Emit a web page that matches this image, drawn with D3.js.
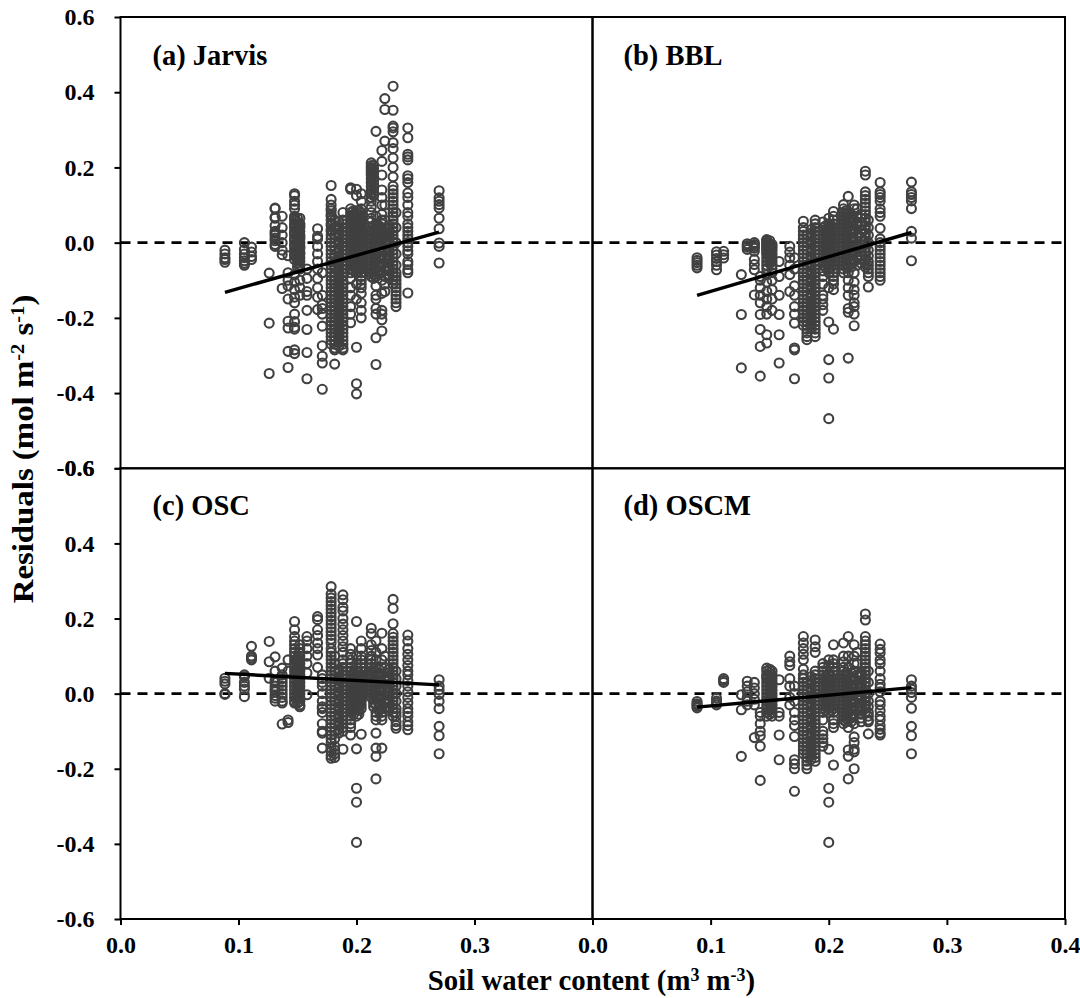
<!DOCTYPE html>
<html>
<head>
<meta charset="utf-8">
<script src="https://cdn.jsdelivr.net/npm/d3@7"></script>
<style>
body { margin: 0; background: #fff; }
text { font-family: "Liberation Serif", serif; font-weight: bold; fill: #000; }
</style>
</head>
<body>
<div id="chart"></div>
<script>
// soil water content of each measurement column
const swc = [0.0885,0.105,0.111,0.126,0.131,0.137,0.142,0.1475,0.152,0.158,0.167,0.171,0.1785,0.1815,0.1885,0.195,0.2,0.204,0.2125,0.2165,0.2215,0.224,0.231,0.2335,0.2435,0.27];
// columns that sit inside the solid dark blocks
const swcDense = [0.15,0.185,0.1975,0.202,0.2145,0.219,0.2275];

// residuals per column, same order as swc
const jarvisRes = [
 [-.02,-.03,-.04,-.045,-.052],
 [0,-.018,-.03,-.04,-.048,-.055,-.06],
 [-.012,-.025,-.037,-.045],
 [-.081,-.214,-.348],
 [.092,.09,.068,.065,.045,.03,.025,.02,.012,.005,-.005,-.01],
 [.07,.04,.02,0,-.02,-.032,-.122],
 [-.035,-.08,-.115,-.209,-.227,-.289,-.332,-.1,-.15],
 [.13,.125,.11,.1,.09,.07,.065,.06,.05,.045,.04,.03,.025,.02,.01,.005,-.005,-.01,-.02,-.03,-.035,-.045,-.085,-.105,-.125,-.145,-.16,-.19,-.21,-.225,-.23,-.285,-.295],
 [.065,.05,.045,.04,.03,.02,.015,.01,0,-.01,-.015,-.025,-.03,-.04,-.05,-.06,-.07,-.1,-.12,-.14],
 [-.07,-.095,-.13,-.14,-.18,-.231,-.292,-.362],
 [.037,.017,.01,-.01,-.03,-.05,-.07,-.095,-.12,-.145,-.178],
 [-.08,-.14,-.165,-.175,-.19,-.222,-.274,-.302,-.32,-.39],
 [.152,.115,.1,.09,.085,.075,.07,.06,.05,.045,.035,.03,.02,.01,0,-.01,-.02,-.03,-.04,-.05,-.06,-.07,-.08,-.09,-.1,-.11,-.12,-.13,-.14,-.15,-.16,-.17,-.18,-.19,-.2,-.21,-.22,-.23,-.24,-.25,-.26,-.27],
 [.06,.04,.02,0,-.02,-.035,-.05,-.065,-.08,-.09,-.1,-.11,-.12,-.13,-.14,-.15,-.16,-.17,-.18,-.19,-.2,-.21,-.22,-.23,-.24,-.25,-.26,-.27,-.28,-.285,-.323],
 [.08,.06,.05,.04,.03,.02,.01,0,-.01,-.02,-.03,-.04,-.05,-.06,-.07,-.08,-.09,-.1,-.11,-.12,-.13,-.14,-.15,-.16,-.17,-.18,-.19,-.2,-.21,-.22,-.23,-.24,-.25,-.26,-.27,-.28,-.285],
 [.146,.142,.09,.08,.07,.06,.05,.04,.03,.02,.01,0,-.01,-.02,-.03,-.04,-.05,-.06,-.07,-.08,-.095,-.12,-.14,-.17,-.19,-.213],
 [.142,.125,.085,.07,.06,.05,.04,.03,.02,.01,0,-.01,-.02,-.03,-.04,-.05,-.06,-.07,-.08,-.11,-.15,-.278,-.375,-.402],
 [.13,.11,.09,.08,.07,.06,.05,.04,.03,.02,.01,0,-.01,-.02,-.03,-.04,-.05,-.06,-.07,-.08,-.09,-.1,-.11,-.12,-.135,-.16,-.18,-.2],
 [.212,.205,.2,.195,.19,.185,.18,.17,.16,.15,.14,.13,.12,.11,.095,.08,.065,.055,.04,.03,.02,.01,0,-.01,-.02,-.03,-.04,-.05,-.06,-.07,-.08,-.09],
 [.296,.07,.05,.035,.02,.005,-.01,-.03,-.05,-.07,-.09,-.115,-.14,-.15,-.175,-.19,-.253,-.324],
 [.245,.216,.18,.14,.12,.1,.075,.06,.05,.04,.03,.02,.01,0,-.02,-.04,-.06,-.08,-.1,-.135,-.18,-.19,-.205,-.235],
 [.383,.354,.27,.1,.06,.03,.02,0,-.02,-.04,-.07,-.09,-.11,-.13],
 [.416,.352,.31,.305,.295,.266,.25,.225,.2,.175,.15,.14,.13,.12,.11,.1,.09,.08,.07,.06,.05,.04,.03,.02,.01,0,-.01,-.02,-.03,-.04,-.05,-.06,-.07,-.08,-.09,-.1,-.11],
 [.08,.04,0,-.03,-.06,-.08,-.09,-.1,-.11,-.12,-.13,-.14,-.15,-.16,-.17],
 [.305,.279,.235,.228,.22,.178,.17,.16,.132,.12,.1,.08,.07,.05,.04,.03,.02,.01,0,-.01,-.022,-.03,-.05,-.058,-.072,-.08,-.134],
 [.138,.119,.11,.101,.092,.065,.037,-.001,-.01,-.054]
];
const jarvisDense = [
 [.065,.055,.045,.035,.025,.015,.005,-.005,-.015,-.025,-.035,-.045,-.055,-.065],
 [.055,.045,.035,.025,.015,.005,-.005,-.015,-.025,-.035,-.045,-.055,-.065,-.075,-.085,-.095,-.105,-.115,-.125,-.135,-.145,-.155,-.165,-.175,-.185,-.195,-.205,-.215,-.225,-.235,-.245,-.255,-.265,-.275],
 [.085,.075,.065,.055,.045,.035,.025,.015,.005,-.005,-.015,-.025,-.035,-.045,-.055,-.065,-.075],
 [.085,.075,.065,.055,.045,.035,.025,.015,.005,-.005,-.015,-.025,-.035,-.045,-.055,-.065,-.075],
 [.205,.195,.185,.175,.165,.155,.145,.135,.125,.045,.035,.025,.015,.005,-.005,-.015,-.025,-.035,-.045,-.055,-.065,-.075,-.085,-.095],
 [.045,.035,.025,.015,.005,-.005,-.015,-.025,-.035,-.045,-.055,-.065,-.075,-.085],
 [.045,.035,.025,.015,.005,-.005,-.015,-.025,-.035,-.045,-.055,-.065,-.075,-.085,-.095]
];
const bblRes = [
 [-.04,-.047,-.053,-.06,-.067],
 [-.024,-.033,-.042,-.05,-.06,-.072],
 [-.023,-.032,-.041],
 [-.085,-.191,-.333],
 [-.003,-.008,-.012,-.018],
 [0,-.01,-.023,-.045,-.058,-.072,-.005,-.015,-.139],
 [-.09,-.1,-.12,-.14,-.16,-.191,-.231,-.276,-.355],
 [.008,.005,0,-.005,-.01,-.015,-.02,-.025,-.03,-.04,-.05,-.06,-.07,-.085,-.105,-.13,-.15,-.17,-.19,-.245,-.267],
 [-.005,-.012,-.02,-.03,-.04,-.05,-.06,-.07,-.08,-.1,-.125,-.15,-.18],
 [-.05,-.09,-.14,-.191,-.245,-.32],
 [-.01,-.025,-.04,-.06,-.085,-.13],
 [-.04,-.07,-.115,-.14,-.17,-.19,-.214,-.28,-.285,-.362],
 [.057,.04,.03,.02,.01,0,-.01,-.02,-.03,-.04,-.05,-.06,-.07,-.08,-.09,-.1,-.11,-.12,-.13,-.14,-.15,-.16,-.17,-.18,-.19,-.2,-.21,-.22],
 [.02,0,-.02,-.04,-.06,-.08,-.1,-.12,-.14,-.16,-.17,-.18,-.19,-.2,-.21,-.22,-.23,-.24,-.25,-.258],
 [.06,.05,.04,.03,.02,.01,0,-.01,-.02,-.03,-.04,-.05,-.06,-.07,-.08,-.09,-.1,-.11,-.12,-.13,-.14,-.15,-.16,-.17,-.18,-.19,-.2,-.21,-.22,-.23,-.24,-.25],
 [.055,.04,.03,.02,.01,0,-.01,-.02,-.03,-.04,-.05,-.06,-.075,-.09,-.11,-.14,-.15,-.165,-.18],
 [.065,.05,.04,.03,.02,.01,0,-.01,-.02,-.03,-.04,-.05,-.06,-.07,-.08,-.12,-.211,-.311,-.36,-.468],
 [.083,.07,.06,.05,.04,.03,.02,.01,0,-.01,-.02,-.03,-.04,-.05,-.06,-.07,-.08,-.09,-.1,-.11,-.125,-.23],
 [.101,.09,.08,.07,.06,.05,.04,.03,.02,.01,0,-.01,-.02,-.03,-.04,-.05,-.06,-.07,-.08],
 [.123,.08,.06,.04,.02,0,-.02,-.04,-.06,-.08,-.1,-.12,-.14,-.175,-.185,-.307],
 [.1,.09,.06,.03,-.02,-.05,-.08,-.105,-.125,-.14,-.16,-.17,-.19,-.221],
 [.09,.07,.05,.02,-.01,-.04,-.06],
 [.19,.18,.135,.125,.115,.105,.095,.085,.075,.065,.055,.045,.035,.025,.015,.005,-.005,-.015,-.025,-.035,-.045,-.055,-.065],
 [.06,.04,.02,0,-.02,-.035,-.05,-.06,-.07,-.08,-.09,-.118],
 [.16,.135,.128,.12,.11,.09,.08,.07,.038,.01,0,-.01,-.02,-.03,-.04,-.05,-.06,-.07,-.08,-.09,-.1],
 [.161,.135,.128,.12,.111,.0905,.03,.012,-.048]
];
const bblDense = [
 [.005,-.005,-.015,-.025,-.035,-.045,-.055],
 [.035,.025,.015,.005,-.005,-.015,-.025,-.035,-.045,-.055,-.065,-.075,-.085,-.095,-.105,-.115,-.125,-.135,-.145,-.155,-.165,-.175,-.185,-.195,-.205,-.215,-.225],
 [.045,.035,.025,.015,.005,-.005,-.015,-.025,-.035,-.045,-.055,-.065],
 [.045,.035,.025,.015,.005,-.005,-.015,-.025,-.035,-.045,-.055,-.065],
 [.085,.075,.065,.055,.045,.035,.025,.015,.005,-.005,-.015,-.025,-.035,-.045,-.055,-.065],
 [.075,.065,.055,.045,.035,.025,.015,.005,-.005,-.015,-.025,-.035,-.045,-.055,-.065],
 [.075,.065,.055,.045,.035,.025,.015,.005,-.005,-.015,-.025,-.035,-.045,-.055]
];
const oscRes = [
 [.041,.033,.026,0,-.002],
 [.05,.045,.03,.02,.012,-.008],
 [.126,.1,.095,.09],
 [.139,.085,.041],
 [.098,.06,.035,.03,.02,.012,.005,-.005,-.012,-.02],
 [.068,.05,.04,.03,.02,.01,0,-.01,-.02,-.025,-.081],
 [.09,.06,-.07,-.077],
 [.192,.17,.152,.14,.13,.12,.11,.1,.09,.08,.07,.06,.05,.04,.03,.02,.01,0,-.01,-.02,-.025],
 [.13,.12,.11,.1,.09,.08,.07,.06,.05,.04,.03,.02,.01,0,-.01,-.02,-.03,-.035],
 [.152,.12,.1,.055,-.003,.14,.08],
 [.205,.197,.17,.155,.135,.12,.103,.07],
 [.05,.04,.03,.02,0,-.02,-.04,-.035,-.05,-.08,-.1,-.105,-.145],
 [.285,.265,.255,.245,.235,.225,.215,.205,.195,.185,.175,.165,.155,.145,.135,.12,.11,.1,.09,.08,.07,.06,.05,.04,.03,.02,.01,0,-.01,-.02,-.03,-.04,-.05,-.06,-.07,-.08,-.09,-.1,-.11,-.12,-.13,-.145,-.155,-.165,-.172],
 [.1,.08,.06,.04,.02,0,-.02,-.04,-.06,-.08,-.1,-.12,-.14,-.15,-.16,-.17],
 [.263,.25,.23,.22,.2,.185,.17,.155,.14,.125,.11,.09,.08,.07,.06,.05,.04,.03,.02,.01,0,-.01,-.02,-.03,-.04,-.05,-.06,-.07,-.08,-.09,-.1,-.148],
 [.12,.105,.09,.08,.07,.06,.05,.04,.03,.02,.01,0,-.01,-.02,-.03,-.04,-.05,-.06,-.07,-.08,-.09,-.11],
 [.192,.1,.08,.06,.04,.02,0,-.02,-.04,-.06,-.147,-.252,-.289,-.396],
 [.14,.12,.1,.09,.08,.07,.06,.05,.04,.03,.02,.01,0,-.01,-.02,-.03,-.04,-.108],
 [.174,.16,.13,.115,.1,.09,.08,.07,.06,.05,.04,.03,.02,.01,0,-.01],
 [.14,.11,.09,.07,.05,.03,.01,-.01,-.03,-.05,-.06,-.07,-.105,-.145,-.167,-.227],
 [.161,.12,.09,.07,.05,.03,.01,-.01,-.03,-.04,-.05,-.06,-.07,-.145],
 [.1,.07,.04,.01,-.02,-.04],
 [.251,.227,.186,.16,.15,.14,.13,.12,.11,.1,.09,.08,.07,.06,.05,.04,.03,.02,.01,0,-.01,-.02,-.03,-.04,-.05,-.06],
 [.06,.04,.02,0,-.02,-.04,-.05,-.06,-.075,-.085,-.092],
 [.156,.14,.12,.105,.09,.075,.06,.05,.035,.02,.005,-.01,-.025,-.04,-.05,-.06,-.075,-.085,-.096],
 [.037,.02,.01,-.002,-.02,-.04,-.087,-.112,-.16]
];
const oscDense = [
 [.095,.085,.075,.065,.055,.045,.035,.025,.015,.005,-.005,-.015,-.025],
 [.065,.055,.045,.035,.025,.015,.005,-.005,-.015,-.025,-.035,-.045,-.055,-.065,-.075,-.085,-.095,-.105],
 [.055,.045,.035,.025,.015,.005,-.005,-.015,-.025,-.035,-.045,-.055],
 [.055,.045,.035,.025,.015,.005,-.005,-.015,-.025,-.035,-.045,-.055],
 [.065,.055,.045,.035,.025,.015,.005,-.005,-.015,-.025,-.035],
 [.065,.055,.045,.035,.025,.015,.005,-.005,-.015,-.025,-.035,-.045],
 [.065,.055,.045,.035,.025,.015,.005,-.005,-.015,-.025,-.035,-.045]
];
const oscmRes = [
 [-.021,-.027,-.03,-.034,-.038],
 [-.012,-.02,-.025,-.03],
 [.04,.035,.03],
 [-.003,-.043,-.167],
 [.033,.02,.005,-.01,-.02,-.03],
 [.03,.015,0,-.015,-.03,-.117],
 [-.05,-.06,-.08,-.1,-.112,-.14,-.231],
 [.068,.06,.05,.045,.04,.03,.02,.01,0,-.01,-.02,-.03,-.04,-.05,-.06],
 [.06,.05,.04,.03,.02,.01,0,-.01,-.02,-.03,-.04,-.05,-.06],
 [.037,-.05,-.06,-.11,-.176],
 [.1,.085,.075,.04,.02,-.03,-.01],
 [.02,0,-.02,-.05,-.07,-.085,-.114,-.176,-.187,-.2,-.26],
 [.152,.135,.12,.105,.09,.065,.05,.04,.03,.02,.01,0,-.01,-.02,-.03,-.04,-.05,-.06,-.07,-.08,-.09,-.1,-.11,-.12,-.13,-.14,-.15,-.16],
 [.03,.01,-.01,-.03,-.05,-.07,-.09,-.11,-.13,-.14,-.15,-.16,-.17,-.18,-.19,-.2],
 [.143,.125,.11,.06,.05,.04,.03,.02,.01,0,-.01,-.02,-.03,-.04,-.05,-.06,-.07,-.08,-.09,-.1,-.11,-.12,-.13,-.14,-.15,-.16,-.17,-.18],
 [.08,.07,.06,.05,.04,.03,.02,.01,0,-.01,-.02,-.03,-.04,-.05,-.07,-.1,-.11,-.12,-.13,-.14],
 [.09,.075,.05,.03,.01,-.01,-.03,-.05,-.148,-.252,-.289,-.396],
 [.13,.09,.08,.07,.06,.05,.04,.03,.02,.01,0,-.01,-.02,-.03,-.04,-.05,-.07,-.08,-.09,-.19],
 [.135,.1,.085,.07,.06,.05,.04,.03,.02,.01,0,-.01,-.02,-.03,-.04,-.05,-.06,-.07,-.08],
 [.152,.1,.07,.05,.03,.01,-.01,-.03,-.05,-.07,-.09,-.15,-.167,-.227],
 [.13,.1,.08,.06,.04,.02,0,-.02,-.04,-.06,-.08,-.115,-.13,-.148,-.155,-.2],
 [.11,.08,.05,.02,-.01,-.04],
 [.212,.196,.152,.14,.13,.12,.11,.1,.09,.08,.07,.06,.05,.04,.03,.02,.01,0,-.01,-.02,-.03,-.04,-.05],
 [.06,.03,0,-.02,-.035,-.05,-.06,-.07,-.075,-.107],
 [.132,.118,.108,.09,.08,.06,.04,.025,.015,.005,-.02,-.03,-.045,-.06,-.07,-.085,-.095,-.105,-.11],
 [.037,.02,.012,.003,-.01,-.039,-.087,-.112,-.16]
];
const oscmDense = [
 [.065,.055,.045,.035,.025,.015,.005,-.005,-.015,-.025,-.035,-.045,-.055],
 [.045,.035,.025,.015,.005,-.005,-.015,-.025,-.035,-.045,-.055,-.065,-.075,-.085,-.095,-.105,-.115,-.125,-.135,-.145,-.155,-.165,-.175],
 [.045,.035,.025,.015,.005,-.005,-.015,-.025,-.035,-.045],
 [.045,.035,.025,.015,.005,-.005,-.015,-.025,-.035,-.045],
 [.055,.045,.035,.025,.015,.005,-.005,-.015,-.025,-.035,-.045,-.055,-.065,-.075],
 [.055,.045,.035,.025,.015,.005,-.005,-.015,-.025,-.035,-.045,-.055,-.065,-.075],
 [.055,.045,.035,.025,.015,.005,-.005,-.015,-.025,-.035,-.045,-.055,-.065,-.075]
];

const panelNames = ["(a) Jarvis","(b) BBL","(c) OSC","(d) OSCM"];
const panelRes = [jarvisRes, bblRes, oscRes, oscmRes];
const panelDense = [jarvisDense, bblDense, oscDense, oscmDense];
// fitted line: residual at first and last column
const fitStart = [-0.132,-0.14,0.054,-0.036];
const fitEnd = [0.028,0.027,0.0235,0.016];

const yTicks = [0.6,0.4,0.2,0.0,-0.2,-0.4,-0.6];
const xTicks = [0.0,0.1,0.2,0.3];
const xTicksLast = [0.0,0.1,0.2,0.3,0.4];

const wid = 1080, hei = 998;
const leftX = 120.5, midX = 592.5, rightX = 1065;
const topY = 17, midY = 468.3, bottomY = 919;

const svg = d3.select("#chart").append("svg").attr("width",wid).attr("height",hei);

panelNames.forEach((name,i)=>{
    const col = i%2, row = Math.floor(i/2);
    const x0 = col==0 ? leftX : midX, x1 = col==0 ? midX : rightX;
    const y0 = row==0 ? topY : midY, y1 = row==0 ? midY : bottomY;
    const xScale = d3.scaleLinear().domain([0,0.4]).range([x0,x1]);
    const yScale = d3.scaleLinear().domain([-0.6,0.6]).range([y1,y0]);
    const g = svg.append("g");

    // dashed zero line
    g.append("line")
        .attr("x1",x0).attr("x2",x1)
        .attr("y1",yScale(0)).attr("y2",yScale(0))
        .attr("stroke","#000").attr("stroke-width",2.6).attr("stroke-dasharray","10 7");

    // open circles, column by column
    const points = panelRes[i].flatMap((ys,k)=>ys.map(v=>[swc[k],v]))
        .concat(panelDense[i].flatMap((ys,k)=>ys.map(v=>[swcDense[k],v])));
    g.selectAll("circle").data(points).enter().append("circle")
        .attr("cx",d=>xScale(d[0]))
        .attr("cy",d=>yScale(d[1]))
        .attr("r",4.5)
        .attr("fill","none")
        .attr("stroke","#404040")
        .attr("stroke-width",2.1);

    // fitted line
    g.append("line")
        .attr("x1",xScale(swc[0])).attr("x2",xScale(swc[swc.length-1]))
        .attr("y1",yScale(fitStart[i])).attr("y2",yScale(fitEnd[i]))
        .attr("stroke","#000").attr("stroke-width",3.4);

    // panel frame
    g.append("rect")
        .attr("x",x0).attr("y",y0).attr("width",x1-x0).attr("height",y1-y0)
        .attr("fill","none").attr("stroke","#000").attr("stroke-width",2);

    // panel label
    g.append("text")
        .attr("x",x0+(col==0?32:31)).attr("y",y0+(row==0?48:47))
        .style("font-size","28.5px")
        .text(name);

    // y axis on the left panels only
    if(col==0){
        const yAxis = d3.axisLeft().scale(yScale).tickValues(yTicks).tickSize(6).tickSizeOuter(0).tickPadding(20)
            .tickFormat(d=>d3.format(".1f")(d).replace("\u2212","-"));
        const ax = g.append("g").attr("transform",`translate(${x0},0)`).call(yAxis);
        ax.select(".domain").remove();
        ax.selectAll("line").attr("stroke","#000").attr("stroke-width",2);
        ax.selectAll("text").style("font-size","24px").style("font-family",'"Liberation Serif", serif');
    }
    // x axis on the bottom panels only
    if(row==1){
        const xAxis = d3.axisBottom().scale(xScale).tickValues(col==0?xTicks:xTicksLast).tickSize(6).tickSizeOuter(0).tickPadding(11)
            .tickFormat(d3.format(".1f"));
        const ax = g.append("g").attr("transform",`translate(0,${y1})`).call(xAxis);
        ax.select(".domain").remove();
        ax.selectAll("line").attr("stroke","#000").attr("stroke-width",2);
        ax.selectAll("text").style("font-size","24px").style("font-family",'"Liberation Serif", serif');
    }
});

// axis titles with superscripts
function addTitle(t,parts){
    let lift = 0;
    parts.forEach(p=>{
        const want = p[1] ? -9 : 0;
        t.append("tspan").text(p[0])
            .attr("dy",want-lift)
            .style("font-size",p[1]?"18px":"28.8px");
        lift = want;
    });
}
const xTitle = svg.append("text").attr("x",591.5).attr("y",990).attr("text-anchor","middle");
addTitle(xTitle,[["Soil water content (m"],["3",1],[" m"],["-3",1],[")"]]);
// the y title runs a little longer than the x title's font would give
const yTitle = svg.append("text").attr("transform","translate(33,449) rotate(-90) scale(1.14,1)").attr("text-anchor","middle");
addTitle(yTitle,[["Residuals (mol m"],["-2",1],[" s"],["-1",1],[")"]]);
</script>
</body>
</html>
